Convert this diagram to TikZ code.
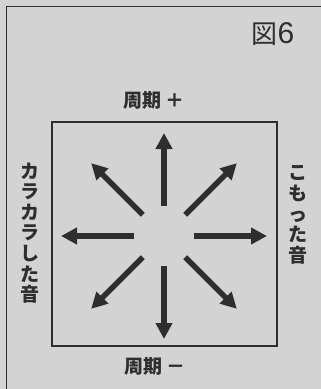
\documentclass[tikz,border=0pt]{standalone}
\usepackage{fontspec}
\newfontfamily\cjk{Noto Sans CJK JP}
\usetikzlibrary{arrows.meta,calc}
\definecolor{bg}{HTML}{D3D3D3}
\definecolor{ink}{HTML}{2E2E2E}
\tikzset{
  lbl/.style={font=\cjk\bfseries\fontsize{19}{20.6}\selectfont, text=ink, inner sep=0pt},
  vlbl/.style={lbl, align=center},
  fig/.style={font=\fontspec{Liberation Sans}\fontsize{30}{30}\selectfont, text=ink, inner sep=0pt},
  frame/.style={draw=ink, line width=1.4pt},
  box/.style={draw=ink, line width=2.2pt},
  bigarrow/.style={draw=ink, line width=5.5pt, -{Triangle[length=16pt,width=16pt]}}
}
\begin{document}
\begin{tikzpicture}[x=1pt,y=-1pt]
\fill[bg] (0,0) rectangle (321,389);
\useasboundingbox (0,0) rectangle (321,389);
\draw[frame] (6.5,389) -- (6.5,6.5) -- (321,6.5);
\node[box, minimum width=225pt, minimum height=224pt, inner sep=0pt] (inner) at (164.5,234) {};
\node[fig] (title) at (273,34) {{\cjk\fontsize{26}{26}\selectfont 図}6};
\node[lbl] (top) at (154,100) {周期 ＋};
\node[lbl] (bot) at (155,366) {周期 －};
\node[vlbl] (left) at (30,233) {カ\\ラ\\カ\\ラ\\し\\た\\音};
\node[vlbl] (right) at (298,215) {こ\\も\\っ\\た\\音};
\coordinate (c) at (164,236);
\foreach \a in {0,45,...,315}{
  \coordinate (t\a) at ($(c)+(\a:30)$);
  \coordinate (h\a) at ($(c)+(\a:103)$);
  \draw[bigarrow] (t\a) -- (h\a);
}
\end{tikzpicture}
\end{document}
